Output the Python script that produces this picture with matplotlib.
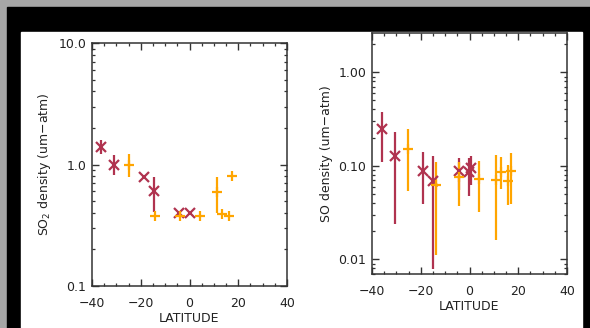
import numpy as np
import matplotlib.pyplot as plt
from matplotlib.patches import Rectangle
from matplotlib.ticker import LogLocator, NullFormatter, MultipleLocator

plt.rcParams["font.family"] = "DejaVu Sans"
plt.rcParams["font.size"] = 9

MAROON = "#b0334f"
ORANGE = "#ffa500"

# SO2 panel (left)
so2_lat_m = [-36.3, -31.0, -18.8, -14.7, -4.3, 0.3]
so2_val_m = [1.39, 0.99, 0.79, 0.60, 0.40, 0.40]
so2_lo_m = [1.22, 0.82, 0.79, 0.41, 0.40, 0.40]
so2_hi_m = [1.58, 1.20, 0.79, 0.79, 0.40, 0.40]

so2_lat_o = [-25.0, -14.1, -3.9, 4.3, 11.4, 13.4, 16.3, 17.6]
so2_val_o = [1.00, 0.38, 0.38, 0.38, 0.59, 0.39, 0.38, 0.80]
so2_lo_o = [0.79, 0.38, 0.38, 0.38, 0.40, 0.39, 0.38, 0.80]
so2_hi_o = [1.21, 0.38, 0.38, 0.38, 0.79, 0.39, 0.38, 0.80]

# SO panel (right)
so_lat_m = [-35.7, -30.7, -19.0, -14.9, -4.4, -0.3, 0.8]
so_val_m = [0.246, 0.128, 0.089, 0.068, 0.088, 0.085, 0.095]
so_lo_m = [0.109, 0.024, 0.039, 0.0079, 0.055, 0.048, 0.062]
so_hi_m = [0.374, 0.229, 0.139, 0.126, 0.122, 0.120, 0.127]

so_lat_o = [-25.2, -13.9, -4.2, 4.0, 10.9, 12.8, 15.9, 16.9]
so_val_o = [0.152, 0.063, 0.075, 0.073, 0.071, 0.086, 0.069, 0.088]
so_lo_o = [0.054, 0.011, 0.037, 0.032, 0.016, 0.057, 0.038, 0.039]
so_hi_o = [0.246, 0.111, 0.110, 0.113, 0.129, 0.124, 0.101, 0.137]


def draw_series(ax, lat, val, lo, hi, color, marker):
    val = np.array(val)
    yerr = [val - np.array(lo), np.array(hi) - val]
    ax.errorbar(lat, val, yerr=yerr, fmt=marker, color=color, ms=7,
                mew=1.6, elinewidth=1.6, capsize=0)


def style_axes(ax, ylim, yticks, ylabels, ylabel):
    ax.set_yscale("log")
    ax.set_xlim(-40, 40)
    ax.set_ylim(*ylim)
    ax.set_xticks([-40, -20, 0, 20, 40])
    ax.set_xticklabels(["\u221240", "\u221220", "0", "20", "40"])
    ax.xaxis.set_minor_locator(MultipleLocator(5))
    ax.set_yticks(yticks)
    ax.set_yticklabels(ylabels)
    ax.yaxis.set_minor_locator(LogLocator(base=10, subs=np.arange(2, 10)))
    ax.yaxis.set_minor_formatter(NullFormatter())
    ax.tick_params(which="both", direction="in", top=True, right=True,
                   color="#333333", labelcolor="#222222")
    ax.tick_params(axis="x", which="major", length=5, pad=8, width=1)
    ax.tick_params(axis="y", which="major", length=5, pad=4, width=1)
    ax.tick_params(which="minor", length=2.5, width=0.9)
    for s in ax.spines.values():
        s.set_linewidth(1.1)
        s.set_color("#333333")
    ax.set_xlabel("LATITUDE", labelpad=1, color="#222222")
    ax.set_ylabel(ylabel, labelpad=4, color="#222222")


fig = plt.figure(figsize=(5.9, 3.28), dpi=100)
fig.patch.set_facecolor("white")

# frame around the white area
W, H = 590.0, 328.0
fig.patches.append(Rectangle((0, 0), 1, 1, transform=fig.transFigure,
                             color="#a6a6a6", zorder=-10))
fig.patches.append(Rectangle((7 / W, 0), 1 - 7 / W, 1 - 7 / H,
                             transform=fig.transFigure, color="black", zorder=-9))
fig.patches.append(Rectangle((21 / W, 0), (582 - 21) / W, (H - 32) / H,
                             transform=fig.transFigure, color="white", zorder=-8))

ax1 = fig.add_axes([92 / W, (H - 286) / H, 195 / W, 243 / H])
ax2 = fig.add_axes([372 / W, (H - 274) / H, 195 / W, 241 / H])
for a in (ax1, ax2):
    a.set_facecolor("none")

draw_series(ax1, so2_lat_m, so2_val_m, so2_lo_m, so2_hi_m, MAROON, "x")
draw_series(ax1, so2_lat_o, so2_val_o, so2_lo_o, so2_hi_o, ORANGE, "+")
style_axes(ax1, (0.1, 10), [0.1, 1, 10], ["0.1", "1.0", "10.0"],
           "SO$_2$ density (um\u2212atm)")

draw_series(ax2, so_lat_m, so_val_m, so_lo_m, so_hi_m, MAROON, "x")
draw_series(ax2, so_lat_o, so_val_o, so_lo_o, so_hi_o, ORANGE, "+")
style_axes(ax2, (0.00697, 2.63), [0.01, 0.1, 1], ["0.01", "0.10", "1.00"],
           "SO density (um\u2212atm)")

plt.savefig("out.png", dpi=100)
